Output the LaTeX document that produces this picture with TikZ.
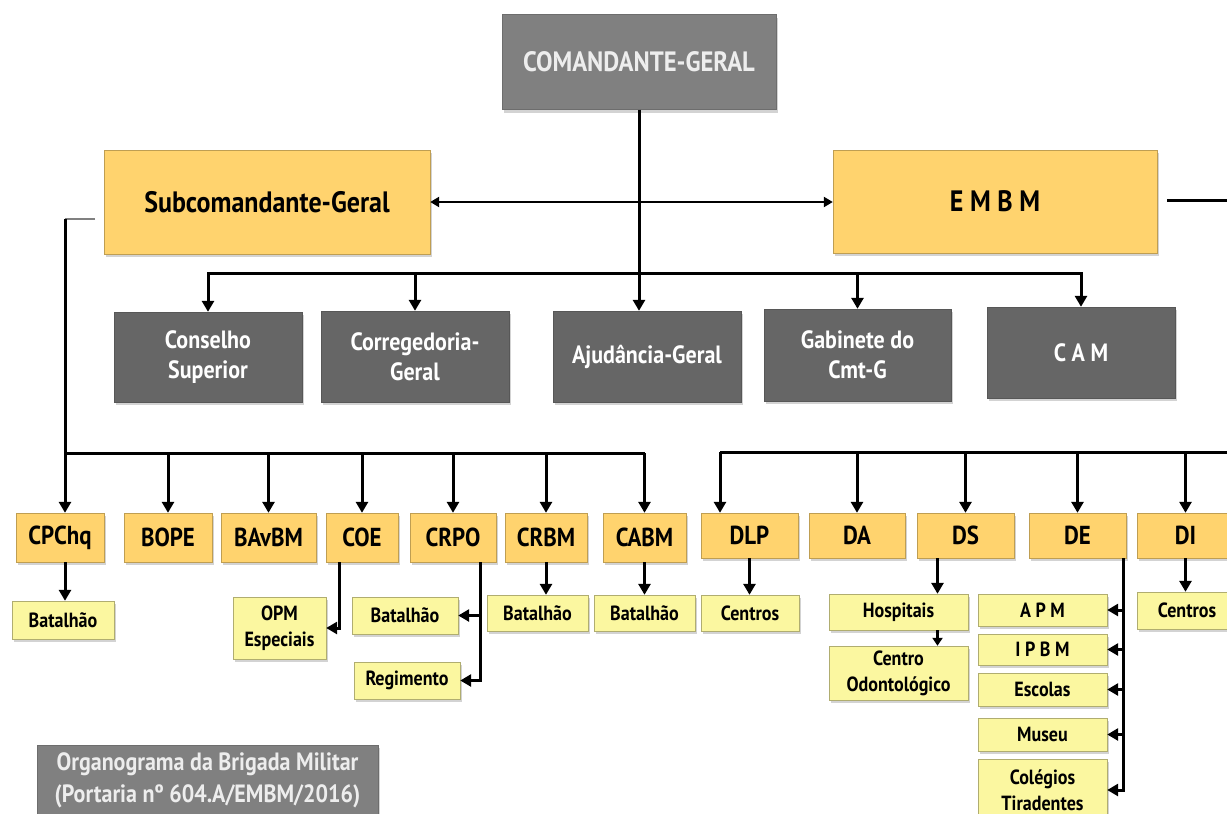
\documentclass[tikz,border=0pt]{standalone}
\usepackage{fontspec}
\setsansfont{PT Sans}[FakeStretch=0.88]
\usepackage{tikz}
\usetikzlibrary{arrows.meta, positioning, calc, shadows}

\definecolor{cmdgray}{HTML}{808080}
\definecolor{staffgray}{HTML}{666666}
\definecolor{dirorange}{HTML}{FFD36E}
\definecolor{unityellow}{HTML}{FBF7A0}

\begin{document}
\begin{tikzpicture}[x=1pt, y=-1pt,
    base/.style={rectangle, inner sep=2pt, align=center, drop shadow={opacity=0.35, shadow xshift=2pt, shadow yshift=-3pt}},
    chief/.style={base, fill=cmdgray, draw=cmdgray!85!black, text=white!93!black, font=\sffamily\bfseries\fontsize{28}{32}\selectfont},
    deputy/.style={base, fill=dirorange, draw=dirorange!75!black, font=\sffamily\bfseries\fontsize{29.5}{34}\selectfont},
    staff/.style={base, fill=staffgray, draw=staffgray!85!black, text=white, font=\sffamily\bfseries\fontsize{25}{30}\selectfont},
    dept/.style={base, fill=dirorange, draw=dirorange!75!black, font=\sffamily\bfseries\fontsize{26}{30}\selectfont},
    unit/.style={base, fill=unityellow, draw=unityellow!70!black, font=\sffamily\bfseries\fontsize{20.5}{26}\selectfont},
    arrow/.style={-{Triangle[length=11pt,width=12pt]}, line width=3pt},
    link/.style={line width=3pt}
]
    \useasboundingbox (0,0) rectangle (1227,814);

    % Command
    \node[chief, minimum width=274pt, minimum height=95pt] (cg) at (639,62) {COMANDANTE-GERAL};
    \node[deputy, minimum width=326pt, minimum height=104pt] (scg) at (267,202) {Subcomandante-Geral};
    \node[deputy, minimum width=324pt, minimum height=103pt] (embm) at (995,201.5) {E M B M};

    % Staff row
    \node[staff, minimum width=188pt, minimum height=90pt] (cons) at (208,357) {Conselho\\Superior};
    \node[staff, minimum width=188pt, minimum height=91pt] (corr) at (415,356.5) {Corregedoria-\\Geral};
    \node[staff, minimum width=188pt, minimum height=91pt] (ajud) at (647,356.5) {Ajudância-Geral};
    \node[staff, minimum width=187pt, minimum height=92pt] (gab) at (857.5,355) {Gabinete do\\Cmt-G};
    \node[staff, minimum width=188pt, minimum height=91pt] (cam) at (1081,352.5) {C A M};

    % Departments row
    \node[dept, minimum width=88pt, minimum height=49pt] (cpchq) at (60,537.5) {CPChq};
    \node[dept, minimum width=88pt, minimum height=49pt] (bope) at (168,537.5) {BOPE};
    \node[dept, minimum width=95pt, minimum height=49pt] (bavbm) at (268.5,537.5) {BAvBM};
    \node[dept, minimum width=72pt, minimum height=49pt] (coe) at (362,537.5) {COE};
    \node[dept, minimum width=86pt, minimum height=49pt] (crpo) at (453,537.5) {CRPO};
    \node[dept, minimum width=82pt, minimum height=49pt] (crbm) at (546,537.5) {CRBM};
    \node[dept, minimum width=83pt, minimum height=49pt] (cabm) at (644.5,537.5) {CABM};
    \node[dept, minimum width=97pt, minimum height=45pt] (dlp) at (749.5,535.5) {DLP};
    \node[dept, minimum width=96pt, minimum height=45pt] (da) at (857,535.5) {DA};
    \node[dept, minimum width=97pt, minimum height=45pt] (ds) at (965.5,535.5) {DS};
    \node[dept, minimum width=97pt, minimum height=45pt] (de) at (1077.5,535.5) {DE};
    \node[dept, minimum width=97pt, minimum height=45pt] (di) at (1185.5,535.5) {DI};

    % Units
    \node[unit, minimum width=102pt, minimum height=38pt] (bat1) at (63,620) {Batalhão};
    \node[unit, minimum width=93pt, minimum height=62pt] (opm) at (279.5,628) {OPM\\Especiais};
    \node[unit, minimum width=106pt, minimum height=37pt] (bat2) at (405,615.5) {Batalhão};
    \node[unit, minimum width=106pt, minimum height=37pt] (reg) at (407,680.5) {Regimento};
    \node[unit, minimum width=101pt, minimum height=36pt] (bat3) at (537.5,613) {Batalhão};
    \node[unit, minimum width=101pt, minimum height=36pt] (bat4) at (644.5,613) {Batalhão};
    \node[unit, minimum width=98pt, minimum height=36pt] (cen1) at (750,613) {Centros};
    \node[unit, minimum width=139pt, minimum height=36pt] (hosp) at (898.5,612) {Hospitais};
    \node[unit, minimum width=139pt, minimum height=54pt] (odonto) at (898.5,673) {Centro\\Odontológico};
    \node[unit, minimum width=129pt, minimum height=32pt] (apm) at (1042.5,610) {A P M};
    \node[unit, minimum width=129pt, minimum height=31pt] (ipbm) at (1042.5,649.5) {I P B M};
    \node[unit, minimum width=129pt, minimum height=33pt] (esc) at (1042.5,689.5) {Escolas};
    \node[unit, minimum width=129pt, minimum height=33pt] (mus) at (1042.5,734.5) {Museu};
    \node[unit, minimum width=129pt, minimum height=62pt] (col) at (1042.5,790) {Colégios\\Tiradentes};
    \node[unit, minimum width=100pt, minimum height=37pt] (cen2) at (1187,610.5) {Centros};

    % Caption
    \node[chief, minimum width=341pt, minimum height=70pt, font=\sffamily\bfseries\fontsize{25}{32}\selectfont] (cap) at (207.5,780) {Organograma da Brigada Militar\\(Portaria nº 604.A/EMBM/2016)};

    % Helper points
    \coordinate (bus) at (640,273);
    \coordinate (sctap) at (95,219);
    \coordinate (scturn) at (65,219);
    \coordinate (lbus) at (65,453);
    \coordinate (rbus) at (720,452);
    \coordinate (rbusend) at (1240,452);
    \coordinate (embmend) at (1240,200);
    \coordinate (coedrop) at ($(coe.south west)+(14,0)$);
    \coordinate (crpodrop) at ($(crpo.south east)+(-16,0)$);
    \coordinate (dsdrop) at ($(ds.south)+(-28,0)$);
    \coordinate (dedrop) at ($(de.south east)+(-3,0)$);

    % Command links
    \draw[{Triangle[length=9pt,width=10pt]}-{Triangle[length=9pt,width=10pt]}, line width=2.2pt] (scg.east) -- (scg.east -| embm.west);
    \draw[link] ($(embm.east)+(10,-1.5)$) -- (embmend);
    \draw[arrow] (cg.south) -- (cg.south |- ajud.north);
    \draw[arrow] (bus) -| (cons.north);
    \draw[arrow] (bus) -| (cam.north);
    \draw[arrow] (corr.north |- bus) -- (corr.north);
    \draw[arrow] (gab.north |- bus) -- (gab.north);

    % Subcomandante branch
    \draw[gray, line width=1.6pt] (sctap) -- (scturn);
    \draw[arrow] (scturn) -- (scturn |- cpchq.north);
    \draw[link] (lbus) -- (cabm.north |- lbus);
    \foreach \d in {bope,bavbm,coe,crpo,crbm,cabm}
        \draw[arrow] (\d.north |- lbus) -- (\d.north);

    % EMBM branch
    \draw[link] (rbus) -- (rbusend);
    \draw[arrow] (rbus) -- (rbus |- dlp.north);
    \foreach \d in {da,ds,de,di}
        \draw[arrow] (\d.north |- rbus) -- (\d.north);

    % Units links
    \draw[arrow] (cpchq.south -| scturn) -- (scturn |- bat1.north);
    \draw[arrow] (coedrop) |- (opm.east);
    \draw[arrow] (crpodrop) |- (bat2.east);
    \draw[arrow] (crpodrop) |- (reg.east);
    \draw[arrow] (crbm.south) -- (crbm.south |- bat3.north);
    \draw[arrow] (cabm.south) -- (cabm.south |- bat4.north);
    \draw[arrow] (dlp.south) -- (dlp.south |- cen1.north);
    \draw[arrow] (dsdrop) -- (dsdrop |- hosp.north);
    \draw[-{Triangle[length=8pt,width=10pt]}, line width=2.4pt] (hosp.south -| dsdrop) -- (odonto.north -| dsdrop);
    \foreach \u in {apm,ipbm,esc,mus,col}
        \draw[arrow] (dedrop) |- (\u.east);
    \draw[arrow] (di.south) -- (di.south |- cen2.north);

\end{tikzpicture}
\end{document}
